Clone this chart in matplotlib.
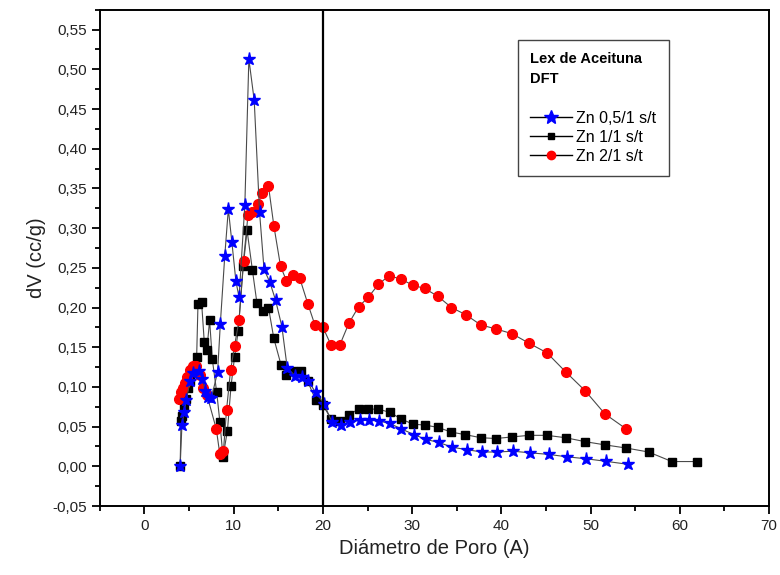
import numpy as np
import matplotlib.pyplot as plt
from matplotlib.lines import Line2D
from matplotlib.ticker import MultipleLocator, FuncFormatter

plt.rcParams['font.family'] = ['Liberation Sans', 'DejaVu Sans']

# --- Data ---
# Zn 0,5/1 s/t (blue stars)
x_zn05 = [4.0, 4.2, 4.45, 4.7, 5.1, 5.45, 6.1, 6.5, 6.8, 7.1,
          7.5, 8.2, 8.5, 9.0, 9.4, 9.8, 10.25, 10.6, 11.25, 11.7,
          12.3, 12.9, 13.4, 14.05, 14.7, 15.4, 16.0, 16.9, 17.6, 18.3,
          19.2, 20.1, 21.0, 22.0, 23.0, 24.1, 25.2, 26.3, 27.5, 28.8,
          30.2, 31.5, 33.0, 34.5, 36.1, 37.8, 39.5, 41.3, 43.2, 45.3,
          47.3, 49.5, 51.7, 54.2]
y_zn05 = [0.0, 0.052, 0.068, 0.084, 0.107, 0.118, 0.120, 0.110, 0.095, 0.087,
          0.086, 0.119, 0.179, 0.265, 0.324, 0.282, 0.233, 0.213, 0.329, 0.513,
          0.461, 0.320, 0.248, 0.232, 0.209, 0.176, 0.124, 0.114, 0.112, 0.108,
          0.093, 0.079, 0.056, 0.052, 0.056, 0.058, 0.058, 0.057, 0.054, 0.047,
          0.040, 0.034, 0.030, 0.024, 0.021, 0.018, 0.018, 0.019, 0.017, 0.015,
          0.012, 0.0095, 0.0063, 0.0025]

# Zn 1/1 s/t (black squares)
x_zn1 = [4.0, 4.1, 4.2, 4.4, 4.6, 4.9, 5.1, 5.35, 5.6, 5.85,
         6.0, 6.4, 6.7, 7.0, 7.3, 7.6, 8.1, 8.45, 8.8, 9.3,
         9.7, 10.1, 10.5, 11.07, 11.5, 12.1, 12.6, 13.3, 13.9, 14.5,
         15.3, 15.9, 16.7, 17.5, 18.3, 19.2, 20.0, 20.9, 21.9, 22.9,
         24.0, 25.1, 26.2, 27.5, 28.7, 30.1, 31.4, 32.9, 34.4, 35.9,
         37.7, 39.4, 41.2, 43.1, 45.1, 47.2, 49.4, 51.6, 54.0, 56.5,
         59.1, 61.9]
y_zn1 = [0.001, 0.057, 0.063, 0.073, 0.085, 0.098, 0.108, 0.118, 0.124, 0.138,
         0.205, 0.207, 0.157, 0.147, 0.184, 0.135, 0.093, 0.056, 0.012, 0.045,
         0.101, 0.138, 0.170, 0.252, 0.297, 0.247, 0.206, 0.196, 0.200, 0.161,
         0.128, 0.115, 0.120, 0.120, 0.107, 0.083, 0.077, 0.060, 0.057, 0.065,
         0.072, 0.072, 0.072, 0.068, 0.060, 0.053, 0.052, 0.049, 0.043, 0.040,
         0.036, 0.035, 0.037, 0.039, 0.039, 0.036, 0.031, 0.027, 0.023, 0.018,
         0.006, 0.006]

# Zn 2/1 s/t (red circles)
x_zn2 = [3.9, 4.05, 4.3, 4.5, 4.8, 5.1, 5.45, 5.8, 6.2, 6.6,
         7.0, 8.05, 8.45, 8.85, 9.2, 9.65, 10.1, 10.6, 11.1, 11.6,
         12.1, 12.7, 13.2, 13.9, 14.5, 15.25, 15.9, 16.7, 17.4, 18.3,
         19.1, 20.0, 20.9, 21.9, 22.9, 24.0, 25.1, 26.2, 27.4, 28.7,
         30.1, 31.4, 32.9, 34.4, 36.0, 37.7, 39.4, 41.2, 43.1, 45.1,
         47.2, 49.4, 51.6, 54.0]
y_zn2 = [0.085, 0.094, 0.099, 0.105, 0.113, 0.121, 0.126, 0.126, 0.115, 0.099,
         0.090, 0.047, 0.015, 0.019, 0.071, 0.121, 0.152, 0.184, 0.259, 0.316,
         0.320, 0.330, 0.344, 0.353, 0.303, 0.252, 0.234, 0.241, 0.237, 0.205,
         0.178, 0.175, 0.153, 0.153, 0.180, 0.201, 0.213, 0.229, 0.240, 0.236,
         0.228, 0.224, 0.214, 0.200, 0.191, 0.178, 0.173, 0.167, 0.155, 0.143,
         0.119, 0.095, 0.066, 0.047]

labels = ['Zn 0,5/1 s/t', 'Zn 1/1 s/t', 'Zn 2/1 s/t']

# --- Figure ---
fig = plt.figure(figsize=(7.8, 5.75), dpi=100)
ax = fig.add_axes([0.128, 0.12, 0.858, 0.863])

line_kw = dict(color='#4a4a4a', lw=0.8)
ax.plot(x_zn1, y_zn1, marker='s', ms=6, mfc='black', mec='black', **line_kw)
ax.plot(x_zn2, y_zn2, marker='o', ms=7, mfc='red', mec='red', **line_kw)
ax.plot(x_zn05, y_zn05, marker='*', ms=9.5, mfc='blue', mec='blue', **line_kw)

ax.axvline(20, color='black', lw=1.6)

ax.set_xlim(-5, 70)
ax.set_ylim(-0.05, 0.575)
ax.xaxis.set_major_locator(MultipleLocator(10))
ax.xaxis.set_minor_locator(MultipleLocator(5))
ax.yaxis.set_major_locator(MultipleLocator(0.05))
ax.yaxis.set_minor_locator(MultipleLocator(0.025))
ax.yaxis.set_major_formatter(FuncFormatter(lambda v, p: f'{v:.2f}'.replace('.', ',').replace('-0,00', '0,00')))
ax.tick_params(which='both', direction='out', top=False, right=False, width=1.3, labelsize=11, colors='black')
ax.tick_params(which='major', length=6)
ax.tick_params(which='minor', length=3.5)
ax.tick_params(axis='both', labelcolor='#222222')
for s in ax.spines.values():
    s.set_linewidth(1.4)

ax.set_xlabel('Diámetro de Poro (A)', fontsize=14.5, color='#222222')
ax.set_ylabel('dV (cc/g)', fontsize=14.5, color='#222222')

handles = [
    Line2D([], [], color='black', lw=1, marker='*', ms=10, mfc='blue', mec='blue'),
    Line2D([], [], color='black', lw=1, marker='s', ms=5, mfc='black', mec='black'),
    Line2D([], [], color='black', lw=1, marker='o', ms=6, mfc='red', mec='red'),
]
leg = ax.legend(handles, labels, loc='upper left', bbox_to_anchor=(0.625, 0.94),
                borderaxespad=0, fancybox=False, edgecolor='#444444', framealpha=1,
                fontsize=11.5, handlelength=2.6, handletextpad=0.3, labelspacing=0.25,
                borderpad=0.75, title='Lex de Aceituna\nDFT\n', alignment='left',
                title_fontproperties={'weight': 'bold', 'size': 10.5})
leg.get_title().set_linespacing(1.6)
leg.get_frame().set_linewidth(1.0)

plt.savefig('out.png', dpi=100)
